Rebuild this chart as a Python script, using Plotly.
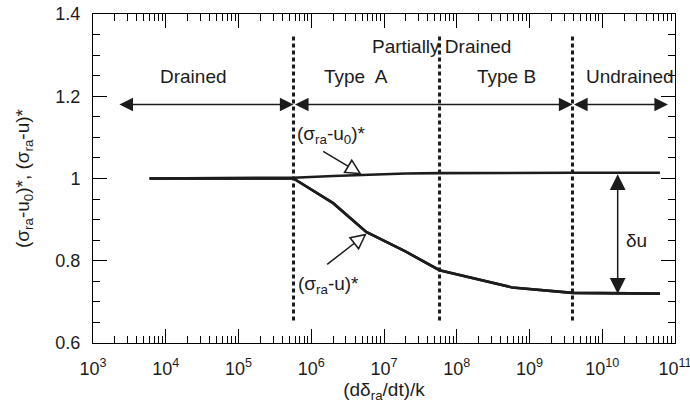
import numpy as np
import plotly.graph_objects as go

# ---- data ----
rate = [6.0e3, 5.7e5, 2.0e6, 5.7e6, 2.0e7, 5.8e7, 5.8e8, 3.9e9, 6.2e10]
stress_u0 = [1.0, 1.002, 1.006, 1.009, 1.012, 1.013, 1.014, 1.014, 1.014]
stress_u = [1.0, 1.0, 0.940, 0.870, 0.822, 0.777, 0.735, 0.722, 0.720]

boundaries = [5.7e5, 5.8e7, 3.9e9]
boundary_y = [0.655, 1.345]

x_ticks = [1e3, 1e4, 1e5, 1e6, 1e7, 1e8, 1e9, 1e10, 1e11]
x_tick_text = ["10<sup>%d</sup>" % k for k in range(3, 12)]
y_ticks = [0.6, 0.8, 1.0, 1.2, 1.4]
y_tick_text = ["0.6", "0.8", "1", "1.2", "1.4"]

region_names = ["Drained", "Type  A", "Type B", "Undrained"]
region_x = [2.37e4, 4.1e6, 4.9e8, 2.4e10]
region_y = 1.247
partial_label = "Partially Drained"
partial_x = 6.1e7
partial_y = 1.32

span_starts = [2.2e3, 5.7e5, 3.9e9]
span_ends = [5.7e5, 3.9e9, 8.0e10]
span_y = 1.18

du_x = 1.63e10
du_top = 1.014
du_bottom = 0.720
du_label_x = 3.0e10
du_label_y = 0.85

label_u0 = "(σ<sub>ra</sub>-u<sub>0</sub>)*"
label_u0_x = 1.87e6
label_u0_y = 1.105
tip_u0_x = 4.93e6
tip_u0_y = 1.010

label_u = "(σ<sub>ra</sub>-u)*"
label_u_x = 1.75e6
label_u_y = 0.742
tip_u_x = 5.78e6
tip_u_y = 0.866

ink = "#1c1c1c"
font = "Liberation Sans, Arial, sans-serif"

fig = go.Figure()

for b in boundaries:
    fig.add_trace(go.Scatter(x=[b, b], y=boundary_y, mode="lines",
                             line=dict(color=ink, width=3, dash="4px,3px"),
                             showlegend=False, hoverinfo="skip"))

fig.add_trace(go.Scatter(x=rate, y=stress_u0, mode="lines",
                         line=dict(color=ink, width=2.6), showlegend=False))
fig.add_trace(go.Scatter(x=rate, y=stress_u, mode="lines",
                         line=dict(color=ink, width=2.6), showlegend=False))
# same curve on the overlay (tick-only) axes, so that subplot is drawn
fig.add_trace(go.Scatter(x=rate, y=stress_u, mode="lines", xaxis="x2", yaxis="y2",
                         line=dict(color=ink, width=2.6), showlegend=False,
                         hoverinfo="skip"))

L = np.log10
ann = []
# region double arrows
for s, e in zip(span_starts, span_ends):
    ann.append(dict(x=L(e), y=span_y, ax=L(s), ay=span_y, xref="x", yref="y",
                    axref="x", ayref="y", text="", showarrow=True,
                    arrowside="end+start", arrowhead=2, arrowwidth=1.6,
                    arrowsize=1.7, arrowcolor=ink))
# region labels
for name, xv in zip(region_names, region_x):
    ann.append(dict(x=L(xv), y=region_y, text=name, showarrow=False,
                    font=dict(size=19, color=ink, family=font)))
ann.append(dict(x=L(partial_x), y=partial_y, text=partial_label, showarrow=False,
                font=dict(size=19, color=ink, family=font)))

# delta u arrow
ann.append(dict(x=L(du_x), y=du_bottom, ax=L(du_x), ay=du_top, xref="x", yref="y",
                axref="x", ayref="y", text="", showarrow=True,
                arrowside="end+start", arrowhead=2, arrowwidth=1.5,
                arrowsize=2.1, arrowcolor=ink))
ann.append(dict(x=L(du_label_x), y=du_label_y, text="δu", showarrow=False,
                font=dict(size=19, color=ink, family=font)))

# callout labels
ann.append(dict(x=L(label_u0_x), y=label_u0_y, text=label_u0, showarrow=False,
                font=dict(size=19, color=ink, family=font)))
ann.append(dict(x=L(label_u_x), y=label_u_y, text=label_u, showarrow=False,
                font=dict(size=19, color=ink, family=font)))

# hollow-head callout arrows: black head, then white inner head
for tx, ty, dx, dy in [(tip_u0_x, tip_u0_y, -40, -24), (tip_u_x, tip_u_y, -41, 32)]:
    n = (dx * dx + dy * dy) ** 0.5
    ann.append(dict(x=L(tx), y=ty, ax=dx, ay=dy, xref="x", yref="y", text="",
                    showarrow=True, arrowhead=2, arrowwidth=1.5, arrowsize=2.2,
                    arrowcolor=ink))
    ann.append(dict(x=L(tx), y=ty, ax=dx / n * 15, ay=dy / n * 15, xref="x", yref="y",
                    text="", showarrow=True, arrowhead=2, arrowwidth=1,
                    arrowsize=2.3, standoff=3.4, arrowcolor="white"))

fig.update_layout(
    width=690, height=413,
    margin=dict(l=93, r=15, t=14, b=70),
    paper_bgcolor="white", plot_bgcolor="white",
    font=dict(family=font, size=18, color=ink),
    annotations=ann,
    showlegend=False,
    # label axes
    xaxis=dict(
        type="log", range=[3, 11], automargin=False,
        tickmode="array", tickvals=x_ticks, ticktext=x_tick_text,
        ticks="", showline=True, linecolor="black", mirror=True,
        showgrid=False, zeroline=False,
        tickfont=dict(size=18, color=ink, family=font),
        ticklabelstandoff=9, ticklabeloverflow="allow",
        title=dict(text="(dδ<sub>ra</sub>/dt)/k",
                   font=dict(size=19, color=ink, family=font), standoff=3),
    ),
    yaxis=dict(
        range=[0.6, 1.4], automargin=False,
        tickmode="array", tickvals=y_ticks, ticktext=y_tick_text,
        ticks="", showline=True, linecolor="black", mirror=True,
        showgrid=False, zeroline=False,
        tickfont=dict(size=18, color=ink, family=font),
        ticklabelstandoff=8,
        title=dict(text="(σ<sub>ra</sub>-u<sub>0</sub>)*, (σ<sub>ra</sub>-u)*",
                   font=dict(size=19, color=ink, family=font), standoff=20),
    ),
    # tick-only overlay axes (plain configuration)
    xaxis2=dict(
        type="log", range=[3, 11], overlaying="x", anchor="y2",
        ticks="inside", ticklen=14, tickcolor="black",
        showline=True, linecolor="black", mirror="allticks",
        minor=dict(ticks="inside", ticklen=7, tickcolor="black"),
        showticklabels=False, showgrid=False,
    ),
    yaxis2=dict(
        range=[0.6, 1.4], overlaying="y", anchor="x2",
        ticks="inside", ticklen=14, tickcolor="black", dtick=0.2,
        showline=True, linecolor="black", mirror="allticks",
        minor=dict(ticks="inside", ticklen=7, tickcolor="black", dtick=0.05),
        showticklabels=False, showgrid=False,
    ),
)

fig.write_html("out.html")
